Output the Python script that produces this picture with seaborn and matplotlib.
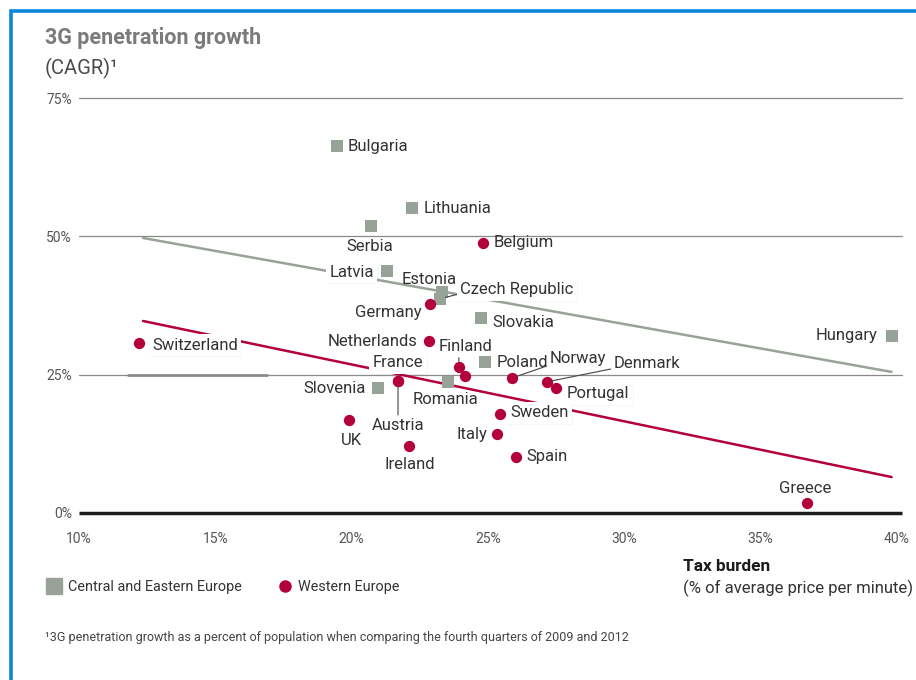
import matplotlib
matplotlib.use("Agg")
import matplotlib.pyplot as plt
import matplotlib.patheffects as pe
from matplotlib.lines import Line2D
from matplotlib.patches import Rectangle
import pandas as pd
import seaborn as sns

# ---- data -------------------------------------------------------------
cee_names = ["Bulgaria", "Lithuania", "Serbia", "Latvia", "Estonia", "Czech Republic",
             "Slovakia", "Poland", "Romania", "Slovenia", "Hungary"]
cee_tax = [19.46, 22.21, 20.71, 21.29, 23.31, 23.24, 24.74, 24.89, 23.53, 20.96, 39.81]
cee_growth = [66.3, 55.1, 51.9, 43.7, 39.9, 38.7, 35.2, 27.3, 23.7, 22.6, 32.0]

we_names = ["Belgium", "Germany", "Netherlands", "Finland", "", "France", "Austria",
            "Switzerland", "UK", "Ireland", "Norway", "Denmark", "Portugal", "Sweden",
            "Italy", "Spain", "Greece"]
we_tax = [24.81, 22.87, 22.83, 23.93, 24.15, 21.70, 21.70, 12.20, 19.90, 22.10,
          25.88, 27.16, 27.49, 25.44, 25.33, 26.02, 36.70]
we_growth = [48.8, 37.8, 31.1, 26.4, 24.8, 23.9, 23.9, 30.7, 16.8, 12.1,
             24.4, 23.7, 22.6, 17.9, 14.3, 10.1, 1.8]

cee_trend_x = [12.35, 39.8]
cee_trend_y = [49.7, 25.5]
we_trend_x = [12.35, 39.8]
we_trend_y = [34.7, 6.5]

x_ticks = [10, 15, 20, 25, 30, 35, 40]
y_ticks = [0, 25, 50, 75]

CEE = "Central and Eastern Europe"
WE = "Western Europe"
GREY = "#96a396"
RED = "#b4003a"
TXT = "#333333"

df = pd.concat([
    pd.DataFrame({"country": cee_names, "tax": cee_tax, "growth": cee_growth, "region": CEE}),
    pd.DataFrame({"country": we_names, "tax": we_tax, "growth": we_growth, "region": WE}),
], ignore_index=True)

# label placement: (dx px, dy px, ha, boxed, leader relpos or None)
label_style = {
    "Bulgaria": (11, 0, "left", False, None),
    "Lithuania": (12, 0, "left", False, None),
    "Serbia": (-1, -21, "center", False, None),
    "Latvia": (-13, -1, "right", True, None),
    "Estonia": (-13, 13, "center", False, None),
    "Czech Republic": (20, 9, "left", True, (0.0, 0.25)),
    "Slovakia": (11, -4, "left", False, None),
    "Poland": (12, -1, "left", False, None),
    "Romania": (-2, -18, "center", False, None),
    "Slovenia": (-12, -1, "right", False, None),
    "Hungary": (-14, 0, "right", False, None),
    "Belgium": (11, 0, "left", False, None),
    "Germany": (-8, -9, "right", False, None),
    "Netherlands": (-11, -1, "right", False, None),
    "Finland": (7, 20, "center", False, (0.37, 0.0)),
    "France": (0, 18, "center", True, None),
    "Austria": (0, -45, "center", False, (0.5, 1.0)),
    "Switzerland": (13, -2, "left", True, None),
    "UK": (2, -20, "center", False, None),
    "Ireland": (1, -18, "center", False, None),
    "Norway": (66, 19, "center", False, (0.0, 0.1)),
    "Denmark": (67, 18, "left", False, (0.0, 0.2)),
    "Portugal": (11, -6, "left", True, None),
    "Sweden": (10, 1, "left", True, None),
    "Italy": (-10, -1, "right", False, None),
    "Spain": (11, 1, "left", False, None),
    "Greece": (-2, 15, "center", False, None),
}

sns.set_theme(style="white")
plt.rcParams["font.family"] = ["Roboto", "DejaVu Sans"]

W, H = 916, 680
fig = plt.figure(figsize=(W / 100, H / 100), dpi=100)
fig.patch.set_facecolor("white")
ax = fig.add_axes([79 / W, 1 - 513 / H, (897 - 79) / W, (513 - 98) / H])

# gridlines and baseline
for v in y_ticks[1:]:
    ax.plot([10, 40.2], [v, v], color="#8a8a8a", lw=0.9, clip_on=False, zorder=1)
ax.plot([11.8, 16.9], [24.9, 24.9], color="#8a8a8a", lw=2.0, zorder=1)
ax.plot([10, 40.2], [0, 0], color="#1c1c1c", lw=2.5, clip_on=False, zorder=2,
        solid_capstyle="butt")

# trend lines
ax.plot(cee_trend_x, cee_trend_y, color=GREY, lw=1.8, zorder=2)
ax.plot(we_trend_x, we_trend_y, color=RED, lw=1.8, zorder=2)

sns.scatterplot(data=df[df.region == CEE], x="tax", y="growth", marker="s",
                color=GREY, s=72, linewidth=0, legend=False, ax=ax, zorder=4)
sns.scatterplot(data=df[df.region == WE], x="tax", y="growth", marker="o",
                color=RED, s=66, linewidth=0, legend=False, ax=ax, zorder=5)

ax.set_xlim(10, 40)
ax.set_ylim(0, 75)
ax.set_xticks(x_ticks)
ax.set_xticklabels([f"{t}%" for t in x_ticks])
ax.set_yticks(y_ticks)
ax.set_yticklabels([f"{t}%" for t in y_ticks])
ax.tick_params(length=0, labelsize=10, labelcolor="#555555")
ax.tick_params(axis="x", pad=14)
ax.tick_params(axis="y", pad=5)
ax.set_xlabel("")
ax.set_ylabel("")
sns.despine(ax=ax, left=True, bottom=True)

# country labels
for _, r in df.iterrows():
    name = r["country"]
    if not name:
        continue
    dx, dy, ha, boxed, relpos = label_style[name]
    kw = {}
    if boxed:
        kw["bbox"] = dict(boxstyle="square,pad=0.2", fc="white", ec="none")
    if relpos is not None:
        kw["arrowprops"] = dict(arrowstyle="-", color="#444444", lw=0.8,
                                shrinkA=0, shrinkB=4, relpos=relpos)
    ann = ax.annotate(name, xy=(r["tax"], r["growth"]), xytext=(dx, dy),
                      textcoords="offset pixels", ha=ha, va="center",
                      fontsize=12, color=TXT, zorder=6, **kw)
    if boxed:
        ann.get_bbox_patch().set_path_effects(
            [pe.withSimplePatchShadow(offset=(1, -1), shadow_rgbFace="black", alpha=0.035),
             pe.Normal()])


def fx(px):
    return px / W


def fy(py):
    return 1 - py / H


# titles
fig.text(fx(45), fy(44), "3G penetration growth", fontsize=15.5, fontweight="bold",
         color="#7b7b7b", va="baseline")
fig.text(fx(45), fy(74), "(CAGR)\u00b9", fontsize=14.5, color="#4a4a4a", va="baseline")

fig.text(fx(683), fy(571), "Tax burden", fontsize=12.4, fontweight="bold", color="#1a1a1a",
         va="baseline")
fig.text(fx(683), fy(588), "(% of average price per minute)", fontsize=12, color="#333333",
         va="center")

# legend
fig.add_artist(Line2D([fx(54)], [fy(586)], marker="s", markersize=11.5, color=GREY,
                      linestyle="none", transform=fig.transFigure))
fig.text(fx(68), fy(587), CEE, fontsize=10.4, color="#333333", va="center")
fig.add_artist(Line2D([fx(285)], [fy(586)], marker="o", markersize=8, color=RED,
                      linestyle="none", transform=fig.transFigure))
fig.text(fx(298), fy(587), WE, fontsize=10.4, color="#333333", va="center")

# footnote
fig.text(fx(45), fy(637), "\u00b93G penetration growth as a percent of population when comparing "
         "the fourth quarters of 2009 and 2012", fontsize=9, color="#444444", va="center")

# blue frame
fig.add_artist(Rectangle((fx(11), fy(H + 20)), 1.2, fy(11) - fy(H + 20),
                         transform=fig.transFigure, fill=False, ec="#0b86d9", lw=2.6,
                         clip_on=False))

fig.savefig("out.png", dpi=100, facecolor="white")
